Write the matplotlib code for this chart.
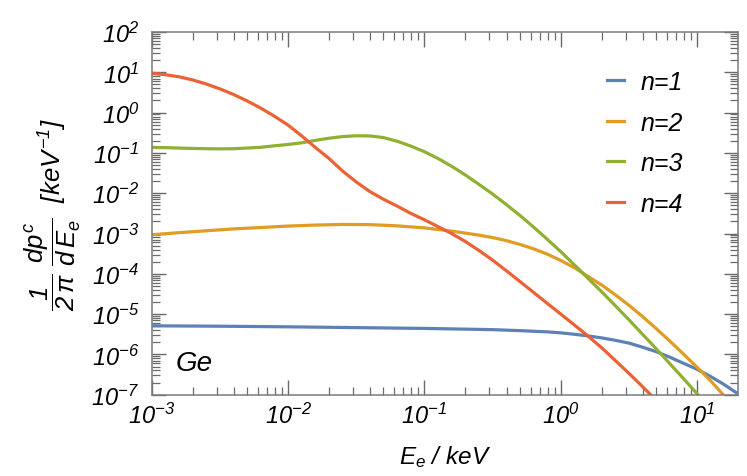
import math
import matplotlib
matplotlib.use("Agg")
import matplotlib.pyplot as plt
from matplotlib.ticker import FixedLocator, LogLocator, NullFormatter, FuncFormatter

plt.rcParams['font.family'] = ['Liberation Sans', 'DejaVu Sans']
plt.rcParams['font.style'] = 'italic'
plt.rcParams['mathtext.fontset'] = 'custom'
plt.rcParams['mathtext.rm'] = 'Liberation Sans:italic'
plt.rcParams['mathtext.it'] = 'Liberation Sans:italic'
plt.rcParams['mathtext.sf'] = 'Liberation Sans:italic'
plt.rcParams['mathtext.bf'] = 'Liberation Sans:italic'

# ---- data (E in keV, spectrum in keV^-1) ----
E_n1 = [0.001, 0.00316, 0.01, 0.0316, 0.1, 0.316, 0.501, 0.794, 1.0, 1.26, 1.58, 2.0, 2.51, 3.16,
        3.98, 5.01, 6.31, 7.94, 10.0, 12.6, 15.8, 19.95]
Y_n1 = [5.13e-6, 5.01e-6, 4.84e-6, 4.62e-6, 4.42e-6, 4.12e-6, 3.89e-6, 3.63e-6, 3.43e-6, 3.16e-6, 2.88e-6,
        2.57e-6, 2.24e-6, 1.91e-6, 1.51e-6, 1.17e-6, 8.51e-7, 6.03e-7, 4.27e-7, 2.82e-7, 1.78e-7, 1.05e-7]

E_n2 = [0.001, 0.00158, 0.00251, 0.00398, 0.00631, 0.01, 0.0158, 0.0251, 0.0398, 0.0631, 0.1, 0.158,
        0.251, 0.316, 0.398, 0.501, 0.631, 0.794, 1.0, 1.26, 1.58, 2.0, 2.51, 3.16, 3.98, 5.01, 6.31,
        7.94, 10.0, 12.6, 15.8]
Y_n2 = [9.33e-4, 1.05e-3, 1.17e-3, 1.30e-3, 1.41e-3, 1.53e-3, 1.62e-3, 1.68e-3, 1.66e-3, 1.55e-3, 1.38e-3,
        1.15e-3, 9.12e-4, 7.94e-4, 6.68e-4, 5.37e-4, 4.17e-4, 3.09e-4, 2.14e-4, 1.41e-4, 8.71e-5, 5.25e-5,
        3.02e-5, 1.66e-5, 8.71e-6, 4.37e-6, 2.14e-6, 1.02e-6, 4.79e-7, 2.19e-7, 9.33e-8]

E_n3 = [0.001, 0.00126, 0.00158, 0.002, 0.00251, 0.00316, 0.00398, 0.00501, 0.00631, 0.00794, 0.01,
        0.0126, 0.0158, 0.02, 0.0251, 0.0316, 0.0398, 0.0501, 0.0631, 0.0794, 0.1, 0.126, 0.158, 0.2,
        0.251, 0.316, 0.398, 0.501, 0.631, 0.794, 1.0, 1.26, 1.58, 2.0, 2.51, 3.16, 3.98, 5.01, 6.31,
        7.94, 10.0, 12.6]
Y_n3 = [0.137, 0.135, 0.132, 0.129, 0.127, 0.126, 0.127, 0.132, 0.138, 0.150, 0.162,
        0.178, 0.204, 0.232, 0.254, 0.266, 0.264, 0.240, 0.195, 0.148, 0.107, 0.0724, 0.0468, 0.0282,
        0.0166, 0.00955, 0.00525, 0.00282, 0.00145, 7.24e-4, 3.55e-4, 1.66e-4, 7.76e-5, 3.55e-5, 1.62e-5,
        7.24e-6, 3.16e-6, 1.38e-6, 5.89e-7, 2.51e-7, 1.05e-7, 4.37e-8]

E_n4 = [0.001, 0.00126, 0.00158, 0.002, 0.00251, 0.00316, 0.00398, 0.00501, 0.00631, 0.00794, 0.01,
        0.0126, 0.0158, 0.02, 0.0251, 0.0316, 0.0398, 0.0501, 0.0631, 0.0794, 0.1, 0.126, 0.158, 0.2,
        0.251, 0.316, 0.398, 0.501, 0.631, 0.794, 1.0, 1.26, 1.58, 2.0, 2.51, 3.16, 3.98, 5.01]
Y_n4 = [9.55, 8.71, 7.76, 6.46, 5.13, 3.89, 2.82, 1.95, 1.29, 0.813, 0.490,
        0.263, 0.138, 0.0724, 0.0355, 0.0191, 0.01096, 0.00708, 4.79e-3, 3.16e-3, 2.19e-3, 1.48e-3, 1.00e-3,
        6.31e-4, 3.80e-4, 2.19e-4, 1.20e-4, 6.46e-5, 3.47e-5, 1.86e-5, 1.00e-5, 5.37e-6, 2.88e-6, 1.45e-6,
        7.08e-7, 3.39e-7, 1.585e-7, 7.24e-8]

labels = ['n=1', 'n=2', 'n=3', 'n=4']
colors = ['#5E81B5', '#E19C24', '#8FB032', '#EB6235']
x_decades = [-3, -2, -1, 0, 1]
y_decades = [-7, -6, -5, -4, -3, -2, -1, 0, 1, 2]

fig = plt.figure(figsize=(7.47, 4.77), dpi=100)
ax = fig.add_axes([0.2031, 0.1704, 0.7849, 0.7604])

for E, Y, lab, c in zip([E_n1, E_n2, E_n3, E_n4], [Y_n1, Y_n2, Y_n3, Y_n4], labels, colors):
    ax.plot(E, Y, color=c, lw=2.3, label=lab, solid_joinstyle='round')

ax.set_xscale('log')
ax.set_yscale('log')
ax.set_xlim(1e-3, 19.95)
ax.set_ylim(1e-7, 1e2)

fs = 17
ax.xaxis.set_major_locator(FixedLocator([10.0**d for d in x_decades]))
ax.yaxis.set_major_locator(FixedLocator([10.0**d for d in y_decades]))
ax.xaxis.set_minor_locator(LogLocator(base=10, subs=range(2, 10), numticks=50))
ax.yaxis.set_minor_locator(LogLocator(base=10, subs=range(2, 10), numticks=50))
fmt = FuncFormatter(lambda v, p: r'$10^{%d}$' % round(math.log10(v)))
ax.xaxis.set_major_formatter(fmt)
ax.yaxis.set_major_formatter(fmt)
ax.xaxis.set_minor_formatter(NullFormatter())
ax.yaxis.set_minor_formatter(NullFormatter())

tick_color = '#6a6a6a'
ax.tick_params(which='both', direction='in', top=True, right=True, colors=tick_color,
               labelcolor='black', labelsize=fs)
ax.tick_params(axis='x', which='major', length=11, width=1.0, pad=6)
ax.tick_params(axis='x', which='minor', length=6, width=0.9)
ax.tick_params(axis='y', which='major', length=10, width=1.0, pad=9)
ax.tick_params(axis='y', which='minor', length=6, width=0.9)
for s in ax.spines.values():
    s.set_color('#7a7a7a')
    s.set_linewidth(1.1)

ax.set_xlabel(r'$E_e\ /\ keV$', fontsize=17.5, labelpad=11)
ax.set_ylabel(r'$\dfrac{1}{2\,\pi}\ \dfrac{dp^c}{d\,E_e}\ \ [keV^{-1}]$', fontsize=18.5)
ax.yaxis.set_label_coords(-0.118, 0.5)

ax.text(0.04, 0.088, 'Ge', transform=ax.transAxes, fontsize=20, ha='left', va='center')

leg = ax.legend(loc='upper right', bbox_to_anchor=(0.944, 0.957), frameon=False, fontsize=18,
                handlelength=0.68, handletextpad=0.64, labelspacing=0.66)

fig.savefig('out.png', dpi=100)
